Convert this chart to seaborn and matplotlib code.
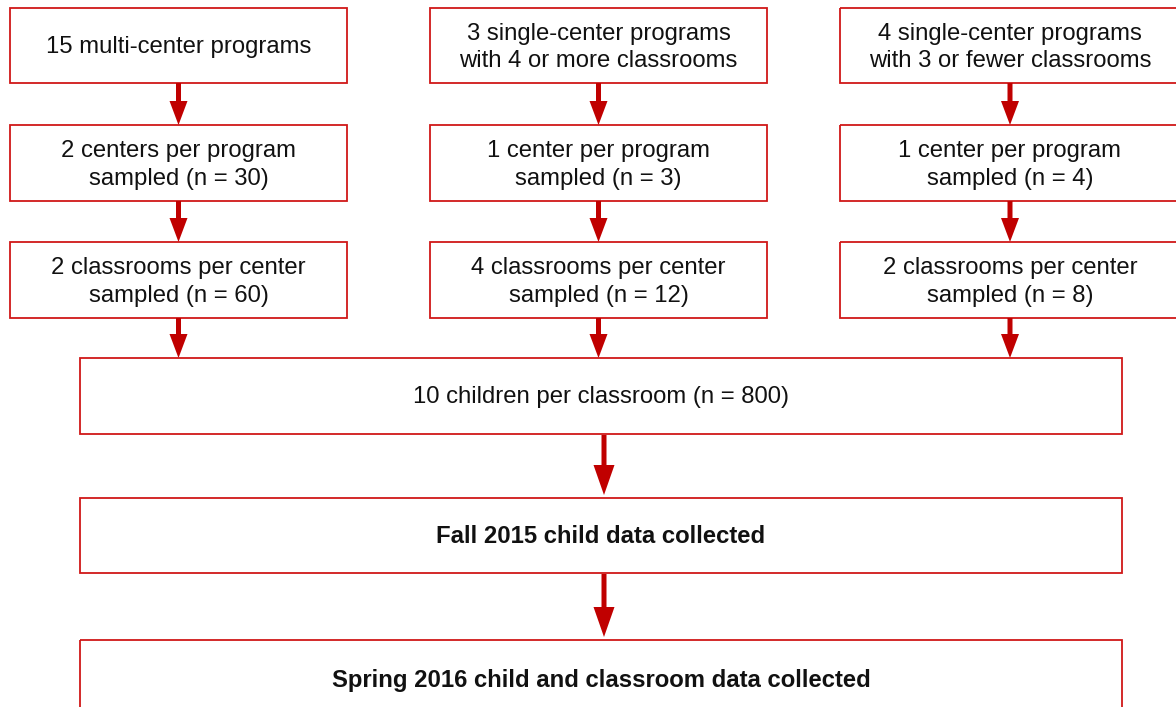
import matplotlib.pyplot as plt
import seaborn as sns
from matplotlib.patches import Rectangle

# Textos de las cajas del diagrama de flujo
col_izq = ["15 multi-center programs",
           "2 centers per program\nsampled (n = 30)",
           "2 classrooms per center\nsampled (n = 60)"]
col_cen = ["3 single-center programs\nwith 4 or more classrooms",
           "1 center per program\nsampled (n = 3)",
           "4 classrooms per center\nsampled (n = 12)"]
col_der = ["4 single-center programs\nwith 3 or fewer classrooms",
           "1 center per program\nsampled (n = 4)",
           "2 classrooms per center\nsampled (n = 8)"]
abajo = ["10 children per classroom (n = 800)",
         "Fall 2015 child data collected",
         "Spring 2016 child and classroom data collected"]
abajo_negrita = [False, True, True]

# Layout (pixeles)
cols_x = [(10, 347), (430, 767), (840, 1180)]
filas_y = [(8, 83), (125, 201), (242, 318)]
abajo_y = [(358, 434), (498, 573), (640, 720)]
abajo_x = (80, 1122)

ROJO_CAJA = "#d01818"
ROJO_FLECHA = "#c00000"

sns.set_theme(style="white")
plt.rcParams['font.family'] = ['Liberation Sans', 'DejaVu Sans']

fig = plt.figure(figsize=(11.76, 7.07), dpi=100)
ax = fig.add_axes([0, 0, 1, 1])
ax.set_xlim(0, 1176)
ax.set_ylim(707, 0)
ax.axis("off")


def caja(x0, x1, y0, y1, texto, negrita=False):
    ax.add_patch(Rectangle((x0, y0), x1 - x0, y1 - y0, fill=False,
                           edgecolor=ROJO_CAJA, linewidth=1.3))
    dy = 2 if "\n" in texto else 1
    ax.text((x0 + x1) / 2, (y0 + y1) / 2 + dy, texto, ha="center", va="center",
            fontsize=17.2, color="#111111", linespacing=1.3,
            fontweight="bold" if negrita else "normal")


def flecha(x, y0, y1, hw, hl):
    ax.arrow(x, y0, 0, y1 - y0, width=5, head_width=hw, head_length=hl,
             length_includes_head=True, color=ROJO_FLECHA, linewidth=0)


for (x0, x1), textos in zip(cols_x, [col_izq, col_cen, col_der]):
    xc = (x0 + x1) / 2
    for i, ((y0, y1), t) in enumerate(zip(filas_y, textos)):
        caja(x0, x1, y0, y1, t)
        siguiente = filas_y[i + 1][0] if i < 2 else abajo_y[0][0]
        flecha(xc, y1, siguiente, 18, 24)

for i, ((y0, y1), t, b) in enumerate(zip(abajo_y, abajo, abajo_negrita)):
    caja(abajo_x[0], abajo_x[1], y0, y1, t, b)
    if i < 2:
        flecha(604, y1 + 1, abajo_y[i + 1][0] - 3, 21, 30)

fig.savefig("out.png", dpi=100)
